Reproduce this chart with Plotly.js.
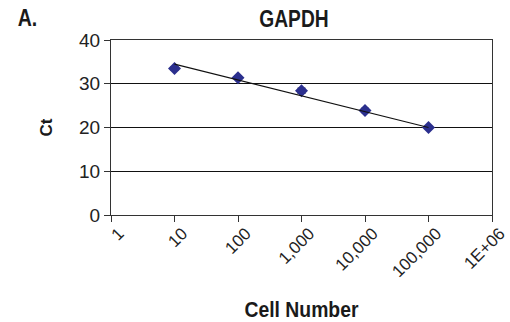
<!DOCTYPE html>
<html><head><meta charset="utf-8">
<script src="https://cdn.plot.ly/plotly-3.0.1.min.js"></script>
<style>html,body{margin:0;padding:0;background:#fff;}#chart{width:510px;height:322px;}</style>
</head><body><div id="chart"></div>
<script>
const cellNumber = [10, 100, 1000, 10000, 100000];
const ctValues = [33.5, 31.4, 28.4, 23.9, 20.0];
const ctErrors = [0.4, 0.4, 0.6, 0.5, 0.3];
const trendX = [10, 100000];
const trendY = [34.5, 20.0];
const xTickVals = [1, 10, 100, 1000, 10000, 100000, 1000000];
const xTickText = ['1', '10', '100', '1,000', '10,000', '100,000', '1E+06'];
const yTickVals = [0, 10, 20, 30, 40];

const sans = '"Liberation Sans", Arial, sans-serif';

const data = [
  {x: cellNumber, y: ctValues, type: 'scatter', mode: 'markers',
   marker: {symbol: 'diamond', size: 10, color: '#2b2f8e'},
   error_y: {type: 'data', array: ctErrors, visible: true, color: '#111', thickness: 1, width: 4},
   showlegend: false},
  {x: trendX, y: trendY, type: 'scatter', mode: 'lines',
   line: {color: '#111', width: 1.2}, showlegend: false}
];

const layout = {
  width: 510, height: 322,
  margin: {l: 111, r: 18, t: 40, b: 107},
  paper_bgcolor: '#fff', plot_bgcolor: '#fff',
  title: {text: '<b>GAPDH</b>', font: {family: sans, size: 24, color: '#1a1a1a'},
          x: 294 / 510, xref: 'container', xanchor: 'center', yref: 'container', y: 1 - 19 / 322, yanchor: 'middle'},
  xaxis: {type: 'log', range: [0, 6], tickvals: xTickVals, ticktext: xTickText,
    tickangle: -45, ticks: 'outside', ticklen: 6, tickcolor: '#333',
    showline: true, linecolor: '#333', linewidth: 1, mirror: true,
    showgrid: false, zeroline: false,
    tickfont: {family: sans, size: 17, color: '#222'},
    title: {text: '<b>Cell Number</b>', font: {family: sans, size: 22, color: '#1a1a1a'}, standoff: 18}},
  yaxis: {range: [0, 40], tickvals: yTickVals, ticks: 'outside', ticklen: 6, tickcolor: '#333',
    showline: true, linecolor: '#333', linewidth: 1, mirror: true,
    showgrid: true, gridcolor: '#111', gridwidth: 1, zeroline: false,
    tickfont: {family: sans, size: 19, color: '#222'},
    title: {text: '<b>Ct</b>', font: {family: sans, size: 17, color: '#1a1a1a'}, standoff: 22}},
  annotations: [
    {text: '<b>A.</b>', xref: 'paper', yref: 'paper', x: (27 - 111) / 381, y: 1 + 22 / 175.7, xanchor: 'center', yanchor: 'middle',
     showarrow: false, font: {family: sans, size: 23, color: '#1a1a1a'}}
  ]
};

function condense(gd, selector, sx) {
  gd.querySelectorAll(selector).forEach(function (t) {
    const x = parseFloat(t.getAttribute('x')) || 0;
    const y = parseFloat(t.getAttribute('y')) || 0;
    const prev = t.getAttribute('transform') || '';
    t.setAttribute('transform', prev + ' translate(' + x + ',' + y + ') scale(' + sx + ',1) translate(' + (-x) + ',' + (-y) + ')');
  });
}

Plotly.newPlot('chart', data, layout, {displayModeBar: false, staticPlot: true}).then(function (gd) {
  condense(gd, '.gtitle', 0.8);
  condense(gd, '.g-xtitle text', 0.88);
  condense(gd, '.annotation-text', 0.85);
  gd.querySelectorAll('.xtick text').forEach(function (t) {
    const prev = t.getAttribute('transform') || '';
    t.setAttribute('transform', 'translate(8,-5) ' + prev);
  });
});
</script></body></html>
